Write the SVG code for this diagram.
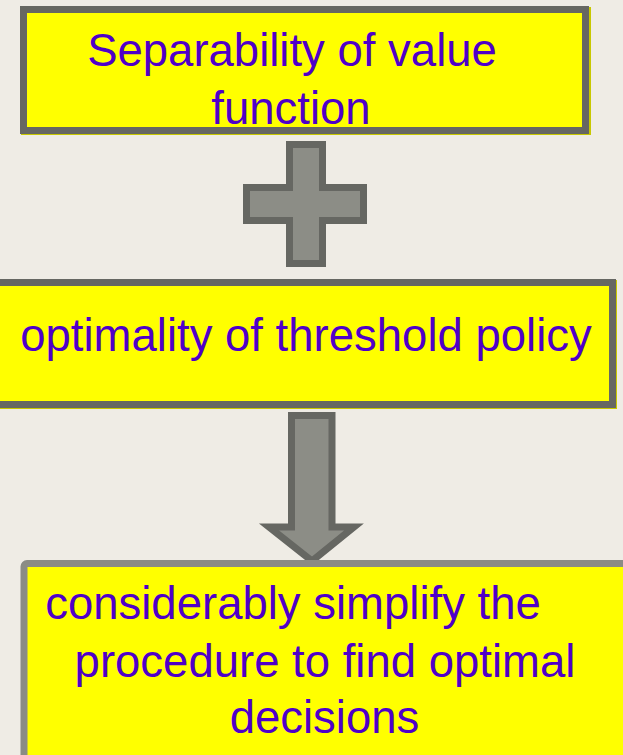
<svg xmlns="http://www.w3.org/2000/svg" width="623" height="755" viewBox="0 0 623 755">
<style>
.bg{fill:#efece5}
.box{fill:#ffff00;stroke:#666762;stroke-width:7}
.box3{fill:#ffff00;stroke:#8b8c85;stroke-width:7}
.under{fill:#c8c800}
.shape{fill:#8c8d86;stroke:#666762;stroke-width:7;stroke-linejoin:miter;stroke-miterlimit:10}
.t{font-family:"Liberation Sans",Arial,sans-serif;font-size:45.5px;fill:#4f00c8;text-anchor:middle}
</style>
<rect class="bg" x="0" y="0" width="623" height="755"/>
<g id="connectors">
<path id="plus" class="shape" d="M289.5 144.5 H322.5 V187.5 H363.5 V220.5 H322.5 V263.5 H289.5 V220.5 H246.5 V187.5 H289.5 Z"/>
<path id="arrow" class="shape" d="M291.5 415.5 H332 V527 H354 L312 561 L269 527 H291.5 Z"/>
</g>
<g id="node1">
<rect class="under" x="21" y="7" width="570" height="128"/>
<rect class="box" x="23.5" y="9.5" width="562" height="121"/>
<text class="t" x="292" y="66">Separability of value</text>
<text class="t" x="291" y="124">function</text>
</g>
<g id="node2">
<rect class="under" x="-10" y="280" width="627" height="129"/>
<rect class="box" x="-10" y="282.5" width="622.5" height="122"/>
<text class="t" x="306" y="351">optimality of threshold policy</text>
</g>
<g id="node3">
<rect class="box3" x="24" y="563.5" width="620" height="210" rx="3"/>
<text class="t" x="293" y="619">considerably simplify the</text>
<text class="t" x="325" y="677">procedure to find optimal</text>
<text class="t" x="324.5" y="733">decisions</text>
</g>
</svg>
